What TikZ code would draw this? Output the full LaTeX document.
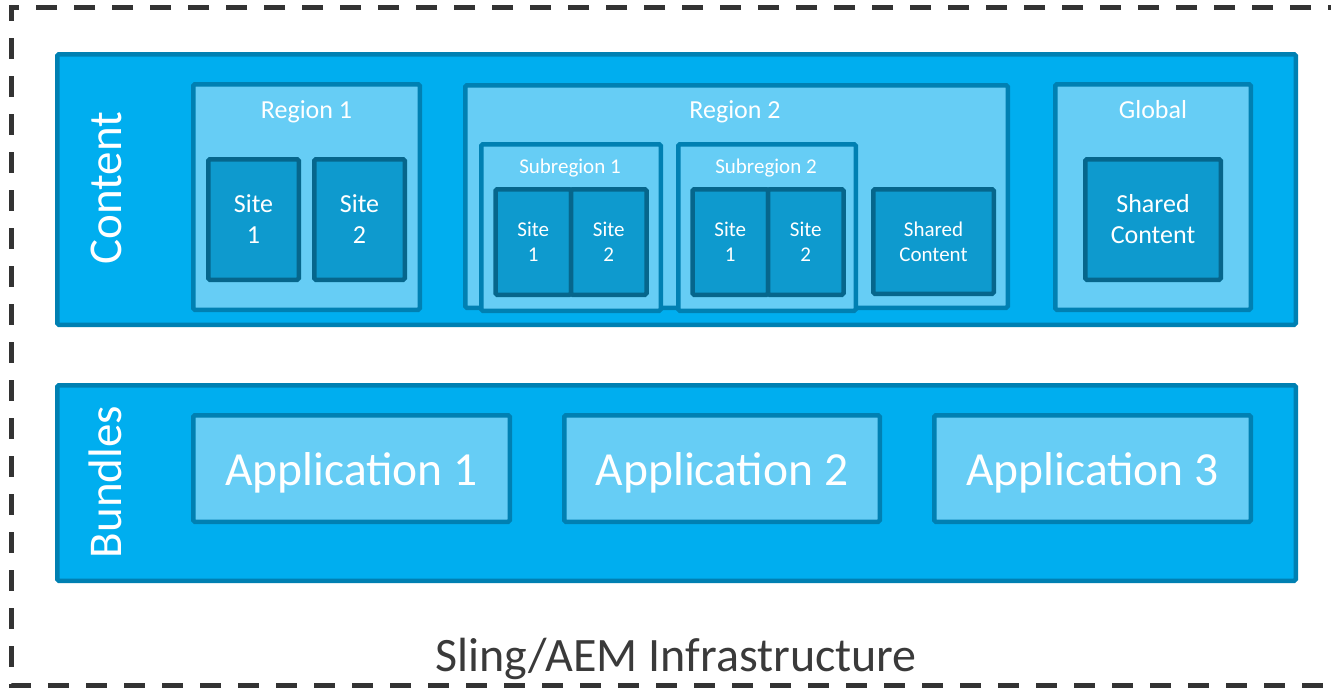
\documentclass[tikz,border=0pt]{standalone}
\usepackage{fontspec}
\setmainfont{Carlito}
\definecolor{cBlue}{HTML}{00AEEF}
\definecolor{cBorder}{HTML}{0080B2}
\definecolor{cLight}{HTML}{66CDF5}
\definecolor{cSite}{HTML}{0E9ACE}
\definecolor{cSiteBorder}{HTML}{06668C}
\definecolor{cDash}{HTML}{333333}
\definecolor{cText}{HTML}{3A3A3A}
\tikzset{
  boxbase/.style={rectangle, inner sep=0pt, outer sep=0pt, line width=4.5pt, rounded corners=1.5pt},
  layerbox/.style={boxbase, fill=cBlue, draw=cBorder},
  regionbox/.style={boxbase, fill=cLight, draw=cBorder},
  sitebox/.style={boxbase, fill=cSite, draw=cSiteBorder, text=white, align=center},
  bigsite/.style={sitebox, font=\fontsize{26}{31}\selectfont},
  smallsite/.style={sitebox, font=\fontsize{21}{25}\selectfont},
  appbox/.style={regionbox, text=white, font=\fontsize{47.5}{57}\selectfont},
  title/.style={text=white, anchor=base, inner sep=0pt, font=\fontsize{26}{31}\selectfont},
  subtitle/.style={text=white, anchor=base, inner sep=0pt, font=\fontsize{21}{25}\selectfont},
  layertitle/.style={text=white, anchor=base, rotate=90, inner sep=0pt, font=\fontsize{47}{56}\selectfont},
}
\begin{document}
\begin{tikzpicture}[x=1pt, y=-1pt]
\useasboundingbox (0,0) rectangle (1331,689);
% outer dashed frame (its right side lies beyond the picture)
\coordinate (frameTR) at (1345,7.5);
\coordinate (frameTL) at (11.5,7.5);
\coordinate (frameBL) at (11.5,685.5);
\coordinate (frameBR) at (1345,685.5);
\draw[cDash, line width=5pt, dash pattern=on 21pt off 17pt, dash phase=4pt] (frameTR) -- (frameTL) -- (frameBL) -- (frameBR);
\node[text=cText, anchor=base, inner sep=0pt, font=\fontsize{48}{58}\selectfont] (infra) at (676,671) {Sling/AEM Infrastructure};

% Content layer
\node[layerbox, minimum width=1238.5pt, minimum height=270.5pt] (content) at (676.5,189.5) {};
\node[layertitle] (contentlbl) at (121.5,188.3) {Content};

% Region 1
\node[regionbox, minimum width=226.5pt, minimum height=225.5pt] (region1) at (306.5,197) {};
\node[title] (region1lbl) at (306.5,118.3) {Region 1};
\node[bigsite, minimum width=90.5pt, minimum height=120.5pt] (r1s1) at (253.5,219.5) {Site\\1};
\node[bigsite, minimum width=90.5pt, minimum height=120.5pt] (r1s2) at (359.5,219.5) {Site\\2};

% Region 2
\node[regionbox, minimum width=542.5pt, minimum height=222.5pt] (region2) at (736.5,196.5) {};
\node[title] (region2lbl) at (735,118.3) {Region 2};
\node[regionbox, minimum width=179.5pt, minimum height=166.5pt] (sub1) at (571,227.5) {};
\node[subtitle] (sub1lbl) at (570,173.3) {Subregion 1};
\node[smallsite, minimum width=75.5pt, minimum height=105.5pt] (s1a) at (533.25,242) {Site\\1};
\node[smallsite, minimum width=75.5pt, minimum height=105.5pt] (s1b) at (608.75,242) {Site\\2};
\node[regionbox, minimum width=177.5pt, minimum height=166.5pt] (sub2) at (767,227.5) {};
\node[subtitle] (sub2lbl) at (766,173.3) {Subregion 2};
\node[smallsite, minimum width=75.5pt, minimum height=105.5pt] (s2a) at (730.25,242) {Site\\1};
\node[smallsite, minimum width=75.5pt, minimum height=105.5pt] (s2b) at (805.75,242) {Site\\2};
\node[smallsite, minimum width=120.5pt, minimum height=104.5pt] (r2shared) at (933.5,241.5) {Shared\\Content};

% Global
\node[regionbox, minimum width=195.5pt, minimum height=225.5pt] (global) at (1153,197) {};
\node[title] (globallbl) at (1153,118.3) {Global};
\node[bigsite, minimum width=135.5pt, minimum height=120.5pt] (gshared) at (1153,219.5) {Shared\\Content};

% Bundles layer
\node[layerbox, minimum width=1238.5pt, minimum height=195.5pt] (bundles) at (676.5,483) {};
\node[layertitle] (bundleslbl) at (121.5,482) {Bundles};
\node[appbox, minimum width=316.5pt, minimum height=106.5pt] (app1) at (351.5,468.5) {};
\node[appbox, minimum width=315.5pt, minimum height=106.5pt] (app2) at (722,468.5) {};
\node[appbox, minimum width=316.5pt, minimum height=106.5pt] (app3) at (1092.5,468.5) {};
\node[text=white, anchor=base, inner sep=0pt, font=\fontsize{47.5}{57}\selectfont] (app1lbl) at (351.5,485) {Application 1};
\node[text=white, anchor=base, inner sep=0pt, font=\fontsize{47.5}{57}\selectfont] (app2lbl) at (722,485) {Application 2};
\node[text=white, anchor=base, inner sep=0pt, font=\fontsize{47.5}{57}\selectfont] (app3lbl) at (1092.5,485) {Application 3};
\end{tikzpicture}
\end{document}
